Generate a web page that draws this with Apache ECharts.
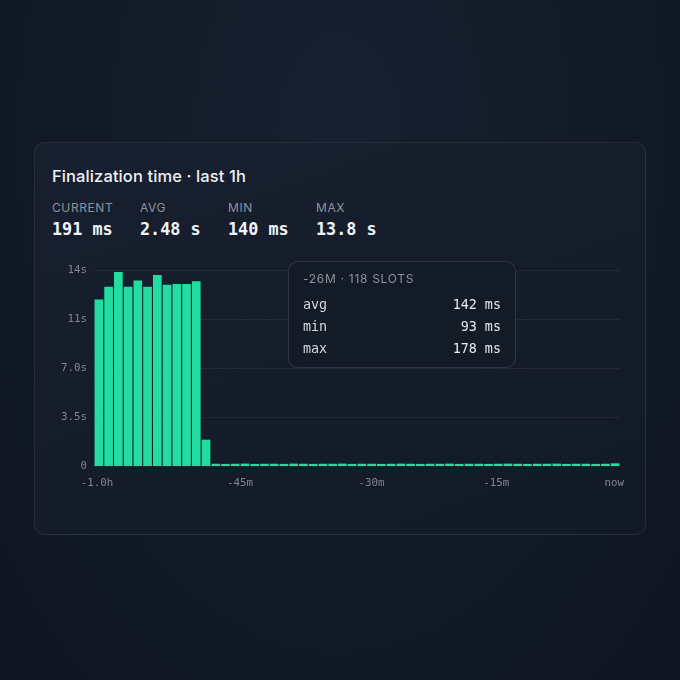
<!DOCTYPE html>
<html>
<head>
<meta charset="utf-8">
<script src="https://cdn.jsdelivr.net/npm/echarts@6/dist/echarts.min.js"></script>
<style>
  html, body { margin: 0; padding: 0; }
  body {
    width: 680px; height: 680px; overflow: hidden; position: relative;
    background: radial-gradient(ellipse at 50% 20%, #172030 0%, #121a27 55%, #0f1622 100%);
    font-family: Inter, "Noto Sans", sans-serif;
  }
  .card {
    position: absolute; left: 34px; top: 142px; width: 612px; height: 393px;
    border-radius: 10px; border: 1px solid rgba(255,255,255,0.08);
    background: linear-gradient(160deg, #182030 0%, #141c29 60%, #131a27 100%);
    box-sizing: border-box;
  }
  .title {
    position: absolute; left: 52px; top: 166px;
    color: #eef1f5; font-size: 16.5px; font-weight: 500; letter-spacing: 0.1px;
  }
  .stat { position: absolute; top: 201px; }
  .stat .lbl {
    color: #8c939e; font-size: 12px; letter-spacing: 0.6px; line-height: 14px;
  }
  .stat .val {
    margin-top: 4px; color: #f1f4f8; font-family: "DejaVu Sans Mono", monospace;
    font-weight: bold; font-size: 16.8px; line-height: 20px;
  }
  #chart { position: absolute; left: 0; top: 0; width: 680px; height: 680px; }
  .tip {
    position: absolute; left: 288px; top: 261px; width: 228px; height: 107px;
    box-sizing: border-box; border-radius: 10px;
    border: 1px solid rgba(255,255,255,0.12); background: rgba(20,27,40,0.96);
    color: #d3d9e1;
  }
  .tip .hd {
    position: absolute; left: 14px; top: 9px; font-size: 12px; letter-spacing: 0.7px;
    color: #8c939e;
  }
  .tip .row {
    position: absolute; left: 14px; right: 14px; height: 18px;
    font-family: "DejaVu Sans Mono", monospace; font-size: 13.4px; line-height: 18px;
  }
  .tip .row span:last-child { position: absolute; right: 0; color: #e6ebf1; }
</style>
</head>
<body>
<div class="card"></div>
<div class="title">Finalization time · last 1h</div>
<div id="stats"></div>
<div id="chart"></div>
<div class="tip" id="tip"></div>
<script>
// 数据
var statLabels = ['CURRENT', 'AVG', 'MIN', 'MAX'];
var statValues = ['191 ms', '2.48 s', '140 ms', '13.8 s'];

// 每个桶的最终确认时间（秒）
var finalization = [
  11.9, 12.8, 13.85, 12.8, 13.25, 12.8, 13.65, 12.95, 13.0, 13.0, 13.2, 1.88,
  0.16, 0.15, 0.16, 0.17, 0.15, 0.16, 0.16, 0.15, 0.17, 0.16, 0.15, 0.16,
  0.16, 0.17, 0.15, 0.16, 0.16, 0.15, 0.16, 0.17, 0.16, 0.15, 0.16, 0.16,
  0.17, 0.15, 0.16, 0.16, 0.15, 0.16, 0.17, 0.16, 0.15, 0.16, 0.16, 0.17,
  0.15, 0.16, 0.16, 0.15, 0.16, 0.19
];
var buckets = finalization.map(function (v, i) { return i; });

// x 轴刻度（桶序号）与标签
var xTickBuckets = [-0.2, 14.5, 28, 40.8, 52.9];
var xTickLabels = ['-1.0h', '-45m', '-30m', '-15m', 'now'];

// 提示框内容
var tipTitle = '-26M · 118 SLOTS';
var tipKeys = ['avg', 'min', 'max'];
var tipValues = ['142 ms', '93 ms', '178 ms'];

// ---- 统计 ----
var statsHtml = '';
statLabels.forEach(function (l, i) {
  statsHtml += '<div class="stat" style="left:' + (52 + i * 88) + 'px"><div class="lbl">' + l +
    '</div><div class="val">' + statValues[i] + '</div></div>';
});
document.getElementById('stats').innerHTML = statsHtml;

// ---- 提示框 ----
var tipHtml = '<div class="hd">' + tipTitle + '</div>';
tipKeys.forEach(function (k, i) {
  tipHtml += '<div class="row" style="top:' + (34 + i * 22) + 'px"><span>' + k +
    '</span><span>' + tipValues[i] + '</span></div>';
});
document.getElementById('tip').innerHTML = tipHtml;

var mono = '"DejaVu Sans Mono", monospace';

var option = {
  backgroundColor: 'transparent',
  animation: false,
  grid: { left: 94, right: 60, top: 270, bottom: 214 },
  xAxis: [
    {
      type: 'category',
      data: buckets,
      axisLine: { show: false },
      axisTick: { show: false },
      axisLabel: { show: false },
      splitLine: { show: false }
    },
    {
      type: 'value',
      min: -0.5,
      max: finalization.length - 0.5,
      position: 'bottom',
      axisLine: { show: false },
      axisTick: { show: false },
      splitLine: { show: false },
      axisLabel: {
        customValues: xTickBuckets,
        margin: 12,
        color: '#80878f',
        fontFamily: mono,
        fontSize: 10.8,
        formatter: function (v) {
          var i = xTickBuckets.indexOf(v);
          return i >= 0 ? xTickLabels[i] : '';
        }
      }
    }
  ],
  yAxis: {
    type: 'value',
    min: 0,
    max: 14,
    interval: 3.5,
    axisLine: { show: false },
    axisTick: { show: false },
    axisLabel: {
      margin: 7,
      color: '#80878f',
      fontFamily: mono,
      fontSize: 10.8,
      formatter: function (v) {
        if (v === 0) return '0';
        return v >= 10 ? Math.round(v) + 's' : v.toFixed(1) + 's';
      }
    },
    splitLine: { lineStyle: { color: 'rgba(255,255,255,0.06)', width: 1 } }
  },
  series: [
    {
      type: 'bar',
      xAxisIndex: 0,
      data: finalization,
      barCategoryGap: '11%',
      itemStyle: { color: '#22dd9f' }
    }
  ]
};

var chart = echarts.init(document.getElementById('chart'));
chart.setOption(option);
</script>
</body>
</html>
